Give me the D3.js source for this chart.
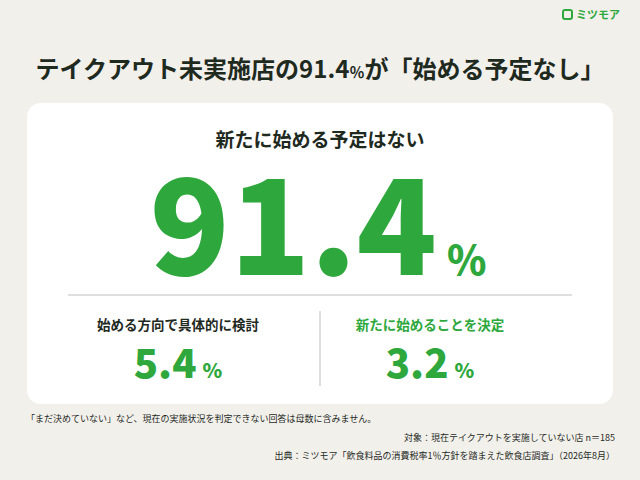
<!DOCTYPE html>
<html><head><meta charset="utf-8">
<script src="https://cdn.jsdelivr.net/npm/d3@7"></script>
<style>body{margin:0;background:#f2f0eb;}svg{display:block;}text{font-family:"Noto Sans CJK JP","Noto Sans",sans-serif;}</style>
</head><body><div id="chart"></div>
<script>
// Data
const categories = ["新たに始める予定はない", "始める方向で具体的に検討", "新たに始めることを決定"];
const values = [91.4, 5.4, 3.2];
const titleParts = ["テイクアウト未実施店の91.4", "％", "が「始める予定なし」"];
const notes = [
    "「まだ決めていない」など、現在の実施状況を判定できない回答は母数に含みません。",
    "対象：現在テイクアウトを実施していない店 n＝185",
    "出典：ミツモア「飲食料品の消費税率1％方針を踏まえた飲食店調査」（2026年8月）"
];

const W = 640, H = 480;
const green = "#2ea83c", dark = "#1f2a1f";

const svg = d3.select("#chart").append("svg").attr("width", W).attr("height", H);
svg.append("rect").attr("width", W).attr("height", H).attr("fill", "#f2f0eb");

// Logo
const logo = svg.append("g").attr("transform", "translate(563,15)");
logo.append("rect").attr("x", 0).attr("y", -5).attr("width", 9).attr("height", 9).attr("rx", 2)
    .attr("fill", "none").attr("stroke", green).attr("stroke-width", 2);
logo.append("text").attr("x", 13).attr("y", 4).attr("font-size", 11).attr("font-weight", 700)
    .attr("fill", green).text("ミツモア");

// Title
const t = svg.append("text").attr("x", W / 2).attr("y", 78).attr("text-anchor", "middle")
    .attr("font-size", 24).attr("font-weight", 700).attr("fill", dark);
t.append("tspan").text(titleParts[0]);
t.append("tspan").attr("font-size", 15).text(titleParts[1]);
t.append("tspan").text(titleParts[2]);

// Card
svg.append("rect").attr("x", 27).attr("y", 103).attr("width", 586).attr("height", 301)
    .attr("rx", 14).attr("fill", "#ffffff");

// Main figure
svg.append("text").attr("x", W / 2).attr("y", 147).attr("text-anchor", "middle")
    .attr("font-size", 19).attr("font-weight", 700).attr("fill", dark).text(categories[0]);
const big = svg.append("text").attr("x", 318).attr("y", 275).attr("text-anchor", "middle")
    .attr("fill", green).attr("font-family", "Inter, Roboto, sans-serif").attr("font-weight", 800);
big.append("tspan").attr("font-size", 132).text(values[0].toFixed(1));
big.append("tspan").attr("font-size", 40).attr("dx", 10).text("%");

svg.append("line").attr("x1", 68).attr("x2", 572).attr("y1", 295).attr("y2", 295)
    .attr("stroke", "#bdbdbd").attr("stroke-width", 1);
svg.append("line").attr("x1", 320).attr("x2", 320).attr("y1", 311).attr("y2", 386)
    .attr("stroke", "#bdbdbd").attr("stroke-width", 1);

// Sub figures
const x = d3.scalePoint().domain(categories.slice(1)).range([178, 430]);
const sub = svg.selectAll("g.sub").data(categories.slice(1).map((c, i) => ({ c, v: values[i + 1], i })))
    .enter().append("g").attr("class", "sub").attr("transform", d => `translate(${x(d.c)},0)`);
sub.append("text").attr("y", 330).attr("text-anchor", "middle").attr("font-size", 13.5).attr("font-weight", 700)
    .attr("fill", d => d.i === 1 ? green : dark).text(d => d.c);
const st = sub.append("text").attr("y", 378).attr("text-anchor", "middle").attr("fill", green)
    .attr("font-family", "Inter, Roboto, sans-serif").attr("font-weight", 800);
st.append("tspan").attr("font-size", 40).text(d => d.v.toFixed(1));
st.append("tspan").attr("font-size", 20).attr("dx", 6).text("%");

// Notes
svg.append("text").attr("x", 26).attr("y", 422).attr("font-size", 9).attr("fill", dark).text(notes[0]);
svg.selectAll("text.note").data(notes.slice(1)).enter().append("text").attr("class", "note")
    .attr("x", 615).attr("y", (d, i) => 441 + i * 18).attr("text-anchor", "end")
    .attr("font-size", 9).attr("fill", dark).text(d => d);
</script></body></html>
